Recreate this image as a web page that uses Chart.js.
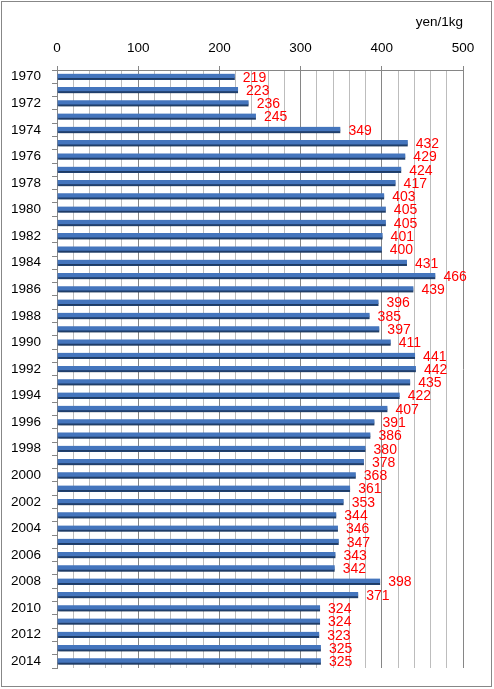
<!DOCTYPE html>
<html>
<head>
<meta charset="utf-8">
<script src="https://cdn.jsdelivr.net/npm/chart.js@4/dist/chart.umd.min.js"></script>
<style>
  html, body { margin: 0; padding: 0; background: #fff; }
  #frame { position: absolute; left: 1px; top: 1px; width: 489px; height: 684px; border: 1.5px solid #878787; }
  #c { position: absolute; left: 0; top: 0; }
</style>
</head>
<body>
<div id="frame"></div>
<canvas id="c" width="494" height="689"></canvas>
<script>
const years = ['1970','1971','1972','1973','1974','1975','1976','1977','1978','1979',
  '1980','1981','1982','1983','1984','1985','1986','1987','1988','1989',
  '1990','1991','1992','1993','1994','1995','1996','1997','1998','1999',
  '2000','2001','2002','2003','2004','2005','2006','2007','2008','2009',
  '2010','2011','2012','2013','2014'];
const prices = [219,223,236,245,349,432,429,424,417,403,
  405,405,401,400,431,466,439,396,385,397,
  411,441,442,435,422,407,391,386,380,378,
  368,361,353,344,346,347,343,342,398,371,
  324,324,323,325,325];
const unitLabel = 'yen/1kg';
const axisMin = 0, axisMax = 500, minorStep = 20, majorStep = 100;

const FONT = "'Liberation Sans', Arial, sans-serif";

const labelPlugin = {
  id: 'barLabels',
  beforeDatasetsDraw(chart) {
    const ctx = chart.ctx;
    ctx.save();
    ctx.shadowColor = 'rgba(0,0,0,0.35)';
    ctx.shadowOffsetX = 1.5;
    ctx.shadowOffsetY = 2;
    ctx.shadowBlur = 2;
  },
  afterDatasetsDraw(chart) {
    const ctx = chart.ctx;
    ctx.restore();
    ctx.save();
    ctx.fillStyle = '#FF0000';
    ctx.font = '14px ' + FONT;
    ctx.textAlign = 'left';
    ctx.textBaseline = 'middle';
    const meta = chart.getDatasetMeta(0);
    meta.data.forEach((bar, i) => {
      ctx.fillText(String(prices[i]), bar.x + 8, bar.y + 1);
    });
    ctx.restore();
  }
};

new Chart(document.getElementById('c'), {
  type: 'bar',
  data: {
    labels: years,
    datasets: [{
      data: prices,
      backgroundColor: '#4475BD',
      borderColor: '#2D5895',
      borderWidth: { top: 0, left: 0, right: 0, bottom: 2 },
      borderSkipped: false,
      barThickness: 6
    }]
  },
  options: {
    indexAxis: 'y',
    responsive: false,
    animation: false,
    devicePixelRatio: 1,
    layout: { padding: { left: 0, top: 0, right: 31, bottom: 21 } },
    plugins: { legend: { display: false }, tooltip: { enabled: false } },
    scales: {
      x: {
        position: 'top',
        min: axisMin,
        max: axisMax,
        afterFit(scale) { scale.height = 70; },
        ticks: {
          stepSize: minorStep,
          autoSkip: false,
          maxRotation: 0,
          padding: 10,
          color: '#000',
          font: { family: FONT, size: 13.5 },
          callback: (v) => (v % majorStep === 0 ? String(v) : '')
        },
        grid: {
          color: (c) => (c.tick && c.tick.value % majorStep === 0 ? '#868686' : '#BDBDBD'),
          tickColor: (c) => (c.tick && c.tick.value % majorStep === 0 ? '#868686' : 'rgba(0,0,0,0)'),
          tickLength: 4,
          lineWidth: 1
        },
        border: { display: true, color: '#868686' },
        title: {
          display: true,
          text: unitLabel,
          align: 'end',
          color: '#000',
          font: { family: FONT, size: 13.5 },
          padding: { top: 14, bottom: 0 }
        }
      },
      y: {
        afterFit(scale) { scale.width = 57; },
        ticks: {
          autoSkip: false,
          padding: 11,
          color: '#000',
          font: { family: FONT, size: 13.5 },
          callback: (v, i) => (i % 2 === 0 ? years[i] : '')
        },
        grid: {
          offset: true,
          drawOnChartArea: false,
          drawTicks: true,
          tickLength: 5,
          tickColor: '#868686'
        },
        border: { display: true, color: '#868686' }
      }
    }
  },
  plugins: [labelPlugin]
});
</script>
</body>
</html>
